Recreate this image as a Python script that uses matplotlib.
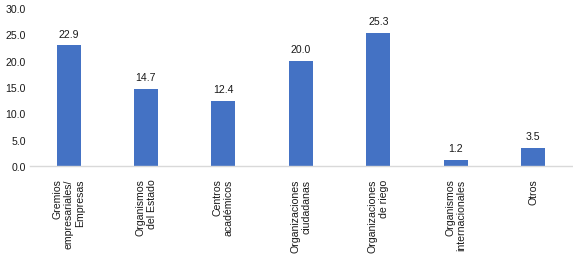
import matplotlib.pyplot as plt
import numpy as np

plt.rcParams['font.family'] = ['Liberation Sans', 'DejaVu Sans']

# datos
categorias = [
    "Gremios\nempresariales/\nEmpresas",
    "Organismos\ndel Estado",
    "Centros\nacadémicos",
    "Organizaciones\nciudadanas",
    "Organizaciones\nde riego",
    "Organismos\ninternacionales",
    "Otros",
]
valores = [22.9, 14.7, 12.4, 20.0, 25.3, 1.2, 3.5]
yticks = [0, 5, 10, 15, 20, 25, 30]

color_barra = '#4472C4'
color_texto = '#1a1a1a'
fs = 7.6

fig = plt.figure(figsize=(5.73, 2.55), dpi=100)
ax = fig.add_axes([0.052, 0.345, 0.946, 0.62])

x = np.arange(len(categorias))
barras = ax.bar(x, valores, width=0.31, color=color_barra, zorder=2)

for xi, v in zip(x, valores):
    ax.annotate(f"{v:.1f}", (xi, v), xytext=(0, 4.5), textcoords='offset points',
                ha='center', va='bottom', fontsize=fs, color=color_texto)

ax.set_xlim(-0.5, len(categorias) - 0.5)
ax.set_ylim(0, 30)
ax.set_yticks(yticks)
ax.set_yticklabels([f"{t:.1f}" for t in yticks], fontsize=fs, color=color_texto)
ax.set_xticks(x)
ax.set_xticklabels(categorias, rotation=90, ha='center', va='top',
                   multialignment='right', fontsize=fs, color=color_texto,
                   linespacing=1.15)
ax.tick_params(axis='both', length=0)
ax.tick_params(axis='x', pad=9)
ax.tick_params(axis='y', pad=3)

for lado in ['top', 'right', 'left']:
    ax.spines[lado].set_visible(False)
ax.spines['bottom'].set_color('#D9D9D9')
ax.spines['bottom'].set_linewidth(1.0)

fig.savefig('out.png', dpi=100)
